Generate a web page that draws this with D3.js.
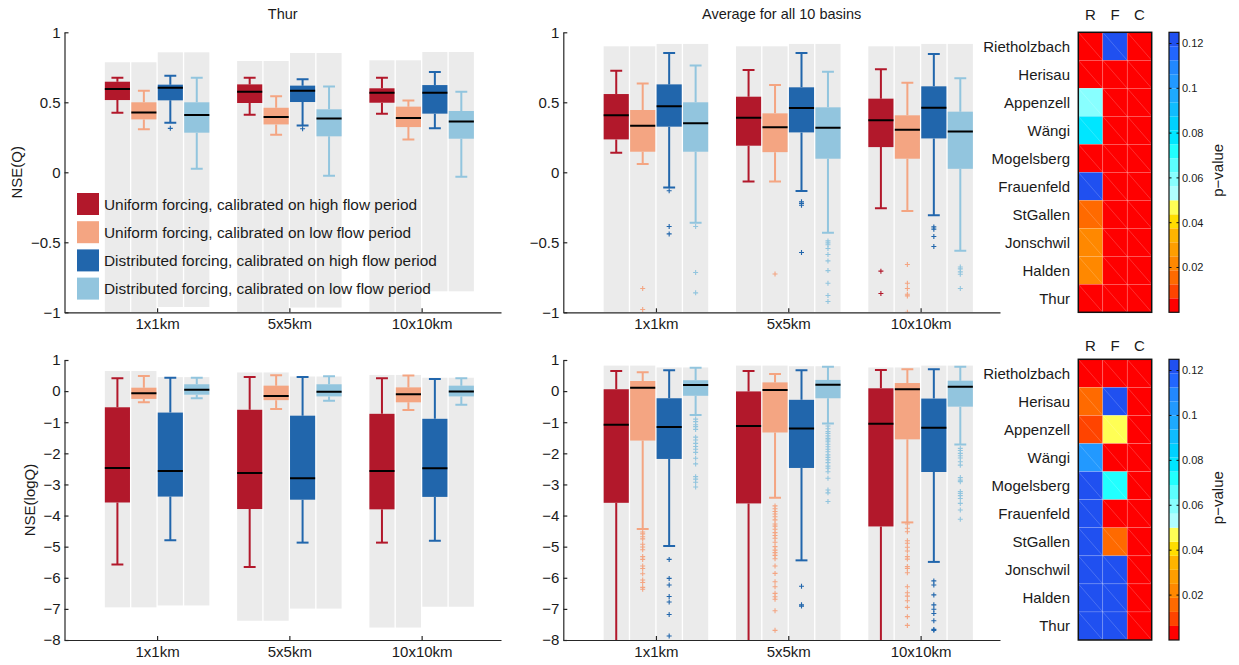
<!DOCTYPE html>
<html>
<head>
<meta charset="utf-8">
<script src="https://cdn.jsdelivr.net/npm/d3@7"></script>
<style>
  body { margin: 0; background: #fff; }
  svg { font-family: Arial, 'Liberation Sans', sans-serif; }
  .axis path, .axis line { stroke: #262626; stroke-width: 1.2; }
  .axis text { fill: #1a1a1a; font-size: 15px; }
</style>
</head>
<body>
<div class="chart"></div>
<script>
const svgWidth = 1239;
const svgHeight = 665;

const groups = ['1x1km', '5x5km', '10x10km'];
const seriesNames = [
  'Uniform forcing, calibrated on high flow period',
  'Uniform forcing, calibrated on low flow period',
  'Distributed forcing, calibrated on high flow period',
  'Distributed forcing, calibrated on low flow period'
];
const seriesColors = ['#b2182b', '#f4a582', '#2166ac', '#92c5de'];
const boxOffsets = [-0.3, -0.1, 0.1, 0.3];

// box stats per group, per series: [lower whisker, q1, median, q3, upper whisker]
const thurQ = [
  [[0.426, 0.516, 0.595, 0.647, 0.676], [0.307, 0.378, 0.428, 0.5, 0.583], [0.354, 0.514, 0.604, 0.626, 0.69], [0.025, 0.283, 0.409, 0.5, 0.676]],
  [[0.411, 0.495, 0.576, 0.628, 0.676], [0.268, 0.342, 0.395, 0.461, 0.543], [0.335, 0.502, 0.583, 0.619, 0.664], [-0.025, 0.257, 0.385, 0.45, 0.612]],
  [[0.419, 0.497, 0.569, 0.6, 0.676], [0.235, 0.323, 0.388, 0.469, 0.512], [0.314, 0.419, 0.569, 0.623, 0.716], [-0.032, 0.24, 0.362, 0.438, 0.576]]
];
const thurQOutliers = [
  [[], [], [0.314], []],
  [[], [], [0.311], []],
  [[], [], [], []]
];
// grey background range [top, bottom]
const thurQRange = [
  [[0.786, -1], [0.786, -1], [0.857, -0.962], [0.857, -0.962]],
  [[0.795, -1], [0.795, -1], [0.852, -0.966], [0.852, -0.966]],
  [[0.8, -1], [0.8, -1], [0.859, -0.85], [0.859, -0.85]]
];

const avgQ = [
  [[0.14, 0.235, 0.407, 0.559, 0.726], [0.059, 0.147, 0.333, 0.445, 0.635], [-0.108, 0.326, 0.471, 0.628, 0.852], [-0.361, 0.147, 0.35, 0.5, 0.762]],
  [[-0.065, 0.19, 0.39, 0.54, 0.731], [-0.065, 0.144, 0.321, 0.421, 0.623], [-0.134, 0.285, 0.459, 0.607, 0.852], [-0.432, 0.097, 0.318, 0.464, 0.719]],
  [[-0.256, 0.18, 0.371, 0.526, 0.736], [-0.277, 0.097, 0.304, 0.407, 0.64], [-0.306, 0.242, 0.461, 0.614, 0.845], [-0.561, 0.025, 0.292, 0.433, 0.671]]
];
const avgQOutliers = [
  [[], [-0.83, -0.98], [-0.132, -0.387, -0.44], [-0.387, -0.716, -0.861]],
  [[], [-0.726], [-0.211, -0.223, -0.235, -0.573], [-0.49, -0.504, -0.518, -0.544, -0.587, -0.633, -0.702, -0.792, -0.88, -0.923]],
  [[-0.706, -0.866], [-0.659, -0.792, -0.83, -0.871, -0.883, -1.0], [-0.39, -0.406, -0.459, -0.53], [-0.676, -0.69, -0.711, -0.728, -0.83]]
];
const avgQRange = [
  [[0.9, -1], [0.9, -1], [0.917, -1], [0.917, -1]],
  [[0.9, -1], [0.9, -1], [0.917, -1], [0.917, -1]],
  [[0.9, -1], [0.9, -1], [0.917, -1], [0.917, -1]]
];

const thurLogQ = [
  [[-5.57, -3.58, -2.47, -0.52, 0.41], [-0.36, -0.25, -0.07, 0.11, 0.485], [-4.79, -3.39, -2.57, -0.69, 0.43], [-0.23, -0.115, 0.045, 0.22, 0.43]],
  [[-5.65, -3.79, -2.63, -0.6, 0.45], [-0.575, -0.29, -0.16, 0.175, 0.51], [-4.87, -3.49, -2.8, -0.79, 0.45], [-0.31, -0.17, -0.02, 0.22, 0.48]],
  [[-4.87, -3.8, -2.57, -0.73, 0.41], [-0.61, -0.36, -0.1, 0.12, 0.5], [-4.81, -3.4, -2.48, -0.89, 0.39], [-0.44, -0.17, -0.01, 0.175, 0.41]]
];
const thurLogQOutliers = [
  [[], [], [], []],
  [[], [], [], []],
  [[], [], [], []]
];
const thurLogQRange = [
  [[0.646, -6.95], [0.646, -6.95], [0.45, -6.89], [0.45, -6.89]],
  [[0.6, -7.38], [0.6, -7.38], [0.47, -6.99], [0.47, -6.99]],
  [[0.52, -7.6], [0.52, -7.6], [0.43, -6.93], [0.43, -6.93]]
];

const avgLogQ = [
  [[-9, -3.59, -1.08, 0.06, 0.646], [-4.43, -1.59, 0.11, 0.325, 0.61], [-4.98, -2.18, -1.15, -0.23, 0.67], [-0.77, -0.15, 0.195, 0.35, 0.75]],
  [[-9, -3.61, -1.12, -0.01, 0.646], [-3.43, -1.33, 0.035, 0.28, 0.55], [-5.44, -2.47, -1.2, -0.28, 0.67], [-1.04, -0.23, 0.205, 0.36, 0.785]],
  [[-9, -4.35, -1.05, 0.09, 0.68], [-4.22, -1.55, 0.06, 0.26, 0.7], [-5.49, -2.6, -1.18, -0.24, 0.7], [-1.72, -0.5, 0.14, 0.335, 0.785]]
];
const avgLogQOutliers = [
  [[],
   [-4.53, -4.59, -4.68, -4.75, -4.92, -5.01, -5.1, -5.32, -5.41, -5.62, -5.7, -5.87, -6.07, -6.15, -6.31, -6.37],
   [-5.41, -6.02, -6.23, -6.6, -6.78, -7.18, -7.87],
   [-0.9, -0.98, -1.08, -1.14, -1.23, -1.48, -1.57, -1.68, -1.78, -1.87, -1.97, -2.16, -2.34, -2.75, -2.83, -2.93, -3.08]],
  [[],
   [-3.69, -3.78, -3.87, -3.95, -4.04, -4.14, -4.27, -4.34, -4.44, -4.55, -4.64, -4.73, -4.86, -5.0, -5.11, -5.19, -5.28, -5.39, -5.62, -5.86, -6.13, -6.29, -6.5, -6.61, -6.69, -7.06, -7.69],
   [-6.27, -6.87, -6.91],
   [-1.12, -1.21, -1.3, -1.36, -1.44, -1.52, -1.57, -1.63, -1.71, -1.79, -1.87, -1.95, -2.05, -2.13, -2.21, -2.3, -2.41, -2.48, -2.59, -2.8, -3.18, -3.27, -3.55]],
  [[],
   [-4.27, -4.41, -4.52, -4.81, -4.89, -5.02, -5.14, -5.32, -5.4, -5.64, -5.7, -5.84, -6.29, -6.48, -6.59, -6.74, -6.95, -7.25, -7.53],
   [-6.1, -6.23, -6.55, -6.87, -7.01, -7.15, -7.38, -7.66, -7.69],
   [-1.84, -1.91, -2.0, -2.08, -2.15, -2.27, -2.38, -2.78, -2.86, -2.91, -3.23, -3.29, -3.36, -3.45, -3.61, -3.82, -4.12]]
];
const avgLogQRange = [
  [[0.82, -8], [0.82, -8], [0.76, -8], [0.76, -8]],
  [[0.82, -8], [0.82, -8], [0.8, -8], [0.8, -8]],
  [[0.76, -8], [0.76, -8], [0.82, -8], [0.82, -8]]
];

// p-values per basin: [R, F, C]
const basins = ['Rietholzbach', 'Herisau', 'Appenzell', 'Wängi', 'Mogelsberg', 'Frauenfeld', 'StGallen', 'Jonschwil', 'Halden', 'Thur'];
const testNames = ['R', 'F', 'C'];
const pValuesQ = [
  [0.001, 0.122, 0.001],
  [0.001, 0.001, 0.001],
  [0.057, 0.001, 0.001],
  [0.079, 0.001, 0.001],
  [0.001, 0.001, 0.001],
  [0.122, 0.001, 0.001],
  [0.014, 0.001, 0.001],
  [0.022, 0.001, 0.001],
  [0.022, 0.001, 0.001],
  [0.001, 0.001, 0.001]
];
const pValuesLogQ = [
  [0.001, 0.001, 0.001],
  [0.016, 0.122, 0.001],
  [0.01, 0.047, 0.001],
  [0.103, 0.001, 0.001],
  [0.122, 0.069, 0.001],
  [0.122, 0.001, 0.001],
  [0.122, 0.016, 0.001],
  [0.122, 0.122, 0.001],
  [0.122, 0.122, 0.001],
  [0.122, 0.122, 0.001]
];
const colorbarTicks = [0.02, 0.04, 0.06, 0.08, 0.1, 0.12];
const colormap = [
  '#ff0000', '#ff4400', '#ff6a00', '#ff8800', '#ff9e00', '#ffb400', '#ffdd00', '#ffff55',
  '#b0ffff', '#88ffff', '#5cffff', '#22ffff', '#00e6ff', '#00d0ff', '#10bcff', '#1eaaff',
  '#2299ff', '#2288ff', '#2266ff', '#2050f0'
];

const svg = d3.select('.chart')
  .append('svg')
  .attr('width', svgWidth)
  .attr('height', svgHeight);

const boxHalf = 0.095;
const capHalf = 0.045;

function drawPanel(opts) {
  const x = d3.scaleLinear().domain([0.3, 3.6]).range([opts.left, opts.right]);
  const y = d3.scaleLinear().domain(opts.yDomain).range([opts.bottom, opts.top]);

  const clipId = 'clip' + opts.id;
  svg.append('clipPath').attr('id', clipId)
    .append('rect')
    .attr('x', opts.left).attr('y', opts.top)
    .attr('width', opts.right - opts.left).attr('height', opts.bottom - opts.top);

  const g = svg.append('g').attr('clip-path', `url(#${clipId})`);

  const boxes = [];
  opts.stats.forEach((grp, gi) => {
    grp.forEach((s, si) => {
      boxes.push({
        pos: gi + 1 + boxOffsets[si],
        s: s,
        color: seriesColors[si],
        range: opts.range[gi][si],
        out: opts.outliers[gi][si]
      });
    });
  });

  // grey background range
  g.selectAll('rect.bg')
    .data(boxes)
    .enter()
    .append('rect')
    .attr('class', 'bg')
    .attr('x', d => x(d.pos - boxHalf))
    .attr('width', d => x(d.pos + boxHalf) - x(d.pos - boxHalf))
    .attr('y', d => y(d.range[0]))
    .attr('height', d => y(d.range[1]) - y(d.range[0]))
    .attr('fill', '#ebebeb');

  const bg = g.selectAll('g.box')
    .data(boxes)
    .enter()
    .append('g')
    .attr('class', 'box');

  bg.append('line')
    .attr('x1', d => x(d.pos)).attr('x2', d => x(d.pos))
    .attr('y1', d => y(d.s[4])).attr('y2', d => y(d.s[3]))
    .attr('stroke', d => d.color).attr('stroke-width', 2);
  bg.append('line')
    .attr('x1', d => x(d.pos)).attr('x2', d => x(d.pos))
    .attr('y1', d => y(d.s[1])).attr('y2', d => y(d.s[0]))
    .attr('stroke', d => d.color).attr('stroke-width', 2);
  [0, 4].forEach(k => {
    bg.append('line')
      .attr('x1', d => x(d.pos - capHalf)).attr('x2', d => x(d.pos + capHalf))
      .attr('y1', d => y(d.s[k])).attr('y2', d => y(d.s[k]))
      .attr('stroke', d => d.color).attr('stroke-width', 2);
  });
  bg.append('rect')
    .attr('x', d => x(d.pos - boxHalf))
    .attr('width', d => x(d.pos + boxHalf) - x(d.pos - boxHalf))
    .attr('y', d => y(d.s[3]))
    .attr('height', d => y(d.s[1]) - y(d.s[3]))
    .attr('fill', d => d.color);
  bg.append('line')
    .attr('x1', d => x(d.pos - boxHalf)).attr('x2', d => x(d.pos + boxHalf))
    .attr('y1', d => y(d.s[2])).attr('y2', d => y(d.s[2]))
    .attr('stroke', '#000').attr('stroke-width', 2);

  bg.each(function(d) {
    d3.select(this).selectAll('path.out')
      .data(d.out)
      .enter()
      .append('path')
      .attr('class', 'out')
      .attr('transform', v => `translate(${x(d.pos)},${y(v)})`)
      .attr('d', 'M-2.5,0H2.5M0,-2.5V2.5')
      .attr('stroke', d.color)
      .attr('stroke-width', 1.1);
  });

  // axes
  svg.append('g')
    .attr('class', 'axis')
    .attr('transform', `translate(${opts.left},0)`)
    .call(d3.axisLeft(y).tickValues(opts.yTicks).tickFormat(d3.format('')).tickSize(-4).tickSizeOuter(0).tickPadding(4));
  svg.append('g')
    .attr('class', 'axis')
    .attr('transform', `translate(0,${opts.bottom})`)
    .call(d3.axisBottom(x).tickValues([1, 2, 3]).tickFormat((d, i) => groups[i]).tickSize(-4).tickSizeOuter(0).tickPadding(6));

  if (opts.title) {
    svg.append('text')
      .attr('x', (opts.left + opts.right) / 2)
      .attr('y', 19)
      .attr('text-anchor', 'middle')
      .attr('font-size', '14.5px')
      .attr('fill', '#1a1a1a')
      .text(opts.title);
  }
  if (opts.yLabel) {
    svg.append('text')
      .attr('transform', `translate(${opts.yLabelX},${(opts.top + opts.bottom) / 2}) rotate(-90)`)
      .attr('text-anchor', 'middle')
      .attr('font-size', '15px')
      .attr('fill', '#1a1a1a')
      .text(opts.yLabel);
  }
}

const topY = [32.3, 312.3];
const botY = [360, 640];
const leftX = [64.5, 501];
const midX = [563.3, 1000];

drawPanel({ id: 'tl', left: leftX[0], right: leftX[1], top: topY[0], bottom: topY[1], yDomain: [-1, 1], yTicks: [-1, -0.5, 0, 0.5, 1],
  stats: thurQ, outliers: thurQOutliers, range: thurQRange, title: 'Thur', yLabel: 'NSE(Q)', yLabelX: 22 });
drawPanel({ id: 'tm', left: midX[0], right: midX[1], top: topY[0], bottom: topY[1], yDomain: [-1, 1], yTicks: [-1, -0.5, 0, 0.5, 1],
  stats: avgQ, outliers: avgQOutliers, range: avgQRange, title: 'Average for all 10 basins' });
drawPanel({ id: 'bl', left: leftX[0], right: leftX[1], top: botY[0], bottom: botY[1], yDomain: [-8, 1], yTicks: d3.range(-8, 2),
  stats: thurLogQ, outliers: thurLogQOutliers, range: thurLogQRange, yLabel: 'NSE(logQ)', yLabelX: 35 });
drawPanel({ id: 'bm', left: midX[0], right: midX[1], top: botY[0], bottom: botY[1], yDomain: [-8, 1], yTicks: d3.range(-8, 2),
  stats: avgLogQ, outliers: avgLogQOutliers, range: avgLogQRange });

// legend
const legend = svg.append('g').attr('transform', 'translate(77,193)');
seriesNames.forEach((name, i) => {
  const row = legend.append('g').attr('transform', `translate(0,${i * 28.2})`);
  row.append('rect')
    .attr('x', 0).attr('y', 0)
    .attr('width', 22).attr('height', 22)
    .attr('fill', seriesColors[i]);
  row.append('text')
    .attr('x', 27).attr('y', 16.5)
    .attr('font-size', '15.4px')
    .attr('fill', '#1a1a1a')
    .text(name);
});

// heatmaps + colorbars
const pColor = d3.scaleQuantize().domain([0, 0.125]).range(colormap);

function drawHeatmap(pValues, top, bottom, colLabelY) {
  const hx = d3.scaleBand().domain(testNames).range([1078.3, 1151.7]);
  const hy = d3.scaleBand().domain(basins).range([top, bottom]);
  const cells = [];
  pValues.forEach((row, i) => row.forEach((p, j) => cells.push({ basin: basins[i], test: testNames[j], p: p })));

  const g = svg.append('g');
  g.selectAll('rect.cell')
    .data(cells)
    .enter()
    .append('rect')
    .attr('class', 'cell')
    .attr('x', d => hx(d.test))
    .attr('y', d => hy(d.basin))
    .attr('width', hx.bandwidth())
    .attr('height', hy.bandwidth())
    .attr('fill', d => pColor(d.p))
    .attr('stroke', 'rgba(255,255,255,0.25)')
    .attr('stroke-width', 0.6);
  g.selectAll('line.diag')
    .data(cells)
    .enter()
    .append('line')
    .attr('x1', d => hx(d.test))
    .attr('y1', d => hy(d.basin))
    .attr('x2', d => hx(d.test) + hx.bandwidth())
    .attr('y2', d => hy(d.basin) + hy.bandwidth())
    .attr('stroke', 'rgba(255,255,255,0.3)')
    .attr('stroke-width', 0.6);
  g.append('rect')
    .attr('x', 1078.3).attr('y', top)
    .attr('width', 1151.7 - 1078.3).attr('height', bottom - top)
    .attr('fill', 'none').attr('stroke', '#111').attr('stroke-width', 1.5);

  g.selectAll('text.row')
    .data(basins)
    .enter()
    .append('text')
    .attr('class', 'row')
    .attr('x', 1070)
    .attr('y', d => hy(d) + hy.bandwidth() / 2)
    .attr('dy', '0.36em')
    .attr('text-anchor', 'end')
    .attr('font-size', '15px')
    .attr('fill', '#1a1a1a')
    .text(d => d);
  g.selectAll('text.col')
    .data(testNames)
    .enter()
    .append('text')
    .attr('class', 'col')
    .attr('x', d => hx(d) + hx.bandwidth() / 2)
    .attr('y', colLabelY)
    .attr('text-anchor', 'middle')
    .attr('font-size', '15px')
    .attr('fill', '#1a1a1a')
    .text(d => d);

  // colorbar
  const cy = d3.scaleLinear().domain([0, 0.125]).range([bottom, top]);
  const step = 0.125 / colormap.length;
  g.selectAll('rect.cb')
    .data(colormap)
    .enter()
    .append('rect')
    .attr('class', 'cb')
    .attr('x', 1169)
    .attr('y', (c, i) => cy((i + 1) * step))
    .attr('width', 10)
    .attr('height', (c, i) => cy(i * step) - cy((i + 1) * step))
    .attr('fill', c => c);
  g.append('rect')
    .attr('x', 1169).attr('y', top)
    .attr('width', 10).attr('height', bottom - top)
    .attr('fill', 'none').attr('stroke', '#111').attr('stroke-width', 1.2);
  g.selectAll('path.cbt')
    .data(colorbarTicks)
    .enter()
    .append('path')
    .attr('class', 'cbt')
    .attr('d', d => `M1169,${cy(d)}h2.5M1179,${cy(d)}h-2.5`)
    .attr('stroke', '#111').attr('stroke-width', 1);
  g.selectAll('text.cbl')
    .data(colorbarTicks)
    .enter()
    .append('text')
    .attr('class', 'cbl')
    .attr('x', 1182)
    .attr('y', d => cy(d))
    .attr('dy', '0.35em')
    .attr('font-size', '11px')
    .attr('fill', '#1a1a1a')
    .text(d => d3.format('')(d));
  g.append('text')
    .attr('transform', `translate(1223,${(top + bottom) / 2 - 2}) rotate(-90)`)
    .attr('text-anchor', 'middle')
    .attr('font-size', '15px')
    .attr('fill', '#1a1a1a')
    .text('p\u2212value');
}

drawHeatmap(pValuesQ, 32.3, 312.3, 20);
drawHeatmap(pValuesLogQ, 359.3, 640, 351);
</script>
</body>
</html>
